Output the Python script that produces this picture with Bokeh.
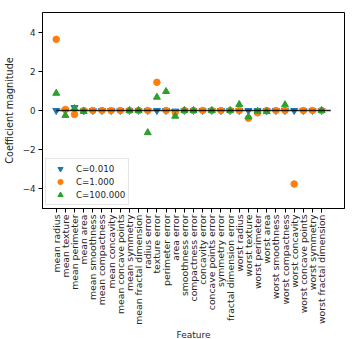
import math
from bokeh.plotting import figure
from bokeh.models import ColumnDataSource, FixedTicker, CustomJSTickFormatter, Range1d, Legend, Title
from bokeh.embed import file_html
from bokeh.resources import INLINE

features = ["mean radius", "mean texture", "mean perimeter", "mean area",
            "mean smoothness", "mean compactness", "mean concavity",
            "mean concave points", "mean symmetry", "mean fractal dimension",
            "radius error", "texture error", "perimeter error", "area error",
            "smoothness error", "compactness error", "concavity error",
            "concave points error", "symmetry error", "fractal dimension error",
            "worst radius", "worst texture", "worst perimeter", "worst area",
            "worst smoothness", "worst compactness", "worst concavity",
            "worst concave points", "worst symmetry", "worst fractal dimension"]

nan = float("nan")
coef_c001 = [0.0, 0.0, 0.15, -0.02, 0.0, 0.0, 0.0, 0.0, 0.0, 0.0,
             0.0, 0.0, 0.0, -0.03, 0.0, 0.0, 0.0, 0.0, 0.0, 0.0,
             0.0, 0.0, 0.0, 0.0, 0.0, 0.0, 0.0, 0.0, 0.0, 0.0]
coef_c1 = [3.63, 0.05, -0.20, 0.0, 0.0, 0.0, 0.0, 0.0, 0.0, 0.0,
           0.0, 1.44, 0.0, -0.10, 0.0, 0.0, 0.0, 0.0, 0.0, 0.0,
           0.0, -0.40, -0.12, 0.0, 0.0, 0.0, -3.75, 0.0, 0.0, 0.0]
coef_c100 = [0.88, -0.25, 0.10, -0.05, nan, nan, nan, nan, 0.0, 0.0,
             -1.13, 0.68, 0.97, -0.29, 0.0, 0.0, nan, 0.0, nan, 0.0,
             0.31, -0.33, -0.04, -0.06, nan, 0.29, nan, nan, nan, 0.0]
series_labels = ["C=0.010", "C=1.000", "C=100.000"]
y_ticks = [-4, -2, 0, 2, 4]
x_title = "Feature"
y_title = "Coefficient magnitude"

FONT = "DejaVu Sans"
FS = "8.7px"
TXT = "#262626"

xs = list(range(len(features)))
src = ColumnDataSource(dict(x=xs, c001=coef_c001, c1=coef_c1, c100=coef_c100))

p = figure(width=355, height=339, output_backend="svg", toolbar_location=None,
           x_range=Range1d(-1.5, len(features) + 1.5), y_range=Range1d(-5, 5),
           min_border_left=42, min_border_right=11, min_border_top=12,
           min_border_bottom=0)
p.xgrid.visible = False
p.ygrid.visible = False
p.outline_line_color = "black"
p.outline_line_width = 1
p.background_fill_color = "white"
p.border_fill_color = "white"

r1 = p.scatter("x", "c001", source=src, marker="inverted_triangle", size=7,
               color="#1f77b4")
r2 = p.scatter("x", "c1", source=src, marker="circle", size=6.5,
               color="#ff7f0e")
r3 = p.scatter("x", "c100", source=src, marker="triangle", size=7,
               color="#2ca02c")
p.line([0, len(features)], [0, 0], line_color="black", line_width=1.5, line_alpha=0.85)

legend = Legend(items=[(series_labels[0], [r1]), (series_labels[1], [r2]),
                       (series_labels[2], [r3])], location="bottom_left")
legend.margin = 3
legend.padding = 3
legend.spacing = 0
legend.label_height = 13
legend.glyph_height = 13
legend.glyph_width = 22
legend.label_standoff = 5
legend.label_text_font = FONT
legend.label_text_font_size = FS
legend.label_text_color = TXT
legend.border_line_color = "#cccccc"
legend.border_line_width = 1
legend.background_fill_alpha = 0.8
p.add_layout(legend)

xa = p.xaxis[0]
xa.ticker = FixedTicker(ticks=xs)
xa.major_label_overrides = {i: f for i, f in enumerate(features)}
xa.major_label_orientation = math.pi / 2

ya = p.yaxis[0]
ya.ticker = FixedTicker(ticks=y_ticks)
ya.formatter = CustomJSTickFormatter(code="return tick < 0 ? '\\u2212' + (-tick) : String(tick);")
ya.axis_label = y_title

for ax in (xa, ya):
    ax.minor_tick_line_color = None
    ax.major_tick_in = 0
    ax.major_tick_out = 4
    ax.major_tick_line_color = "black"
    ax.axis_line_color = "black"
    ax.major_label_text_font = FONT
    ax.major_label_text_font_size = FS
    ax.major_label_text_color = TXT
    ax.axis_label_text_font = FONT
    ax.axis_label_text_font_size = FS
    ax.axis_label_text_font_style = "normal"
    ax.axis_label_text_color = TXT
    ax.major_label_standoff = 3
ya.axis_label_standoff = 5
ya.axis_label_text_font_size = "9.6px"
xa.major_label_text_font_size = "9.3px"
xa.major_label_standoff = 2

xt = Title(text=x_title, align="center", text_font=FONT, text_font_size="9px",
           text_font_style="normal", text_color=TXT, standoff=0)
p.add_layout(xt, "below")

open("out.html", "w").write(file_html(p, INLINE))
